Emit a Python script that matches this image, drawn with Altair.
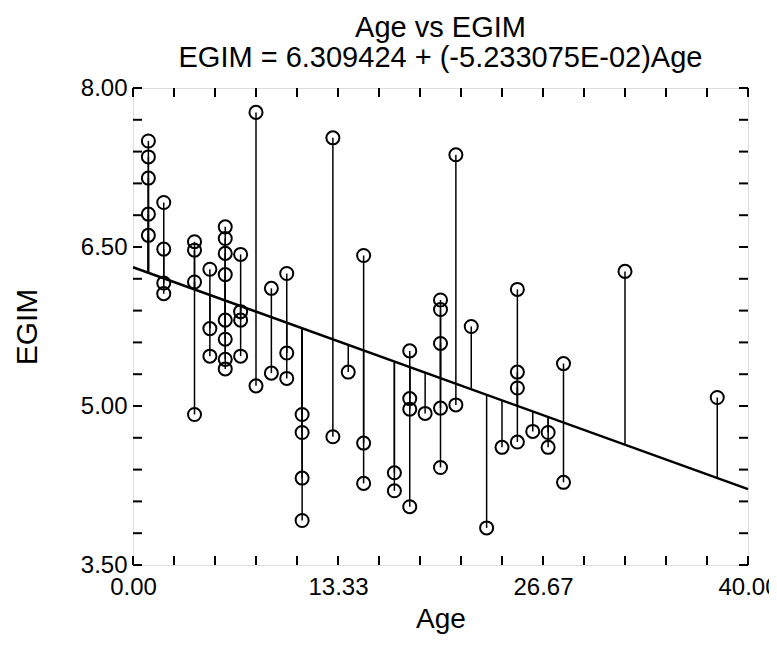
import altair as alt
import pandas as pd

# ---- data ----
age = [1, 1, 1, 1, 1,
       2, 2, 2, 2,
       4, 4, 4, 4,
       5, 5, 5,
       6, 6, 6, 6, 6, 6, 6, 6,
       7, 7, 7, 7,
       8, 8,
       9, 9,
       10, 10, 10,
       11, 11, 11, 11,
       13, 13,
       14,
       15, 15, 15,
       17, 17,
       18, 18, 18, 18,
       19,
       20, 20, 20, 20, 20,
       21, 21,
       22,
       23,
       24,
       25, 25, 25, 25,
       26,
       27, 27,
       28, 28,
       32,
       38]
egim = [7.50, 7.35, 7.15, 6.81, 6.61,
        6.92, 6.48, 6.16, 6.06,
        6.55, 6.47, 6.17, 4.92,
        6.29, 5.73, 5.47,
        6.69, 6.58, 6.44, 6.24, 5.81, 5.63, 5.44, 5.35,
        6.43, 5.89, 5.81, 5.47,
        7.77, 5.19,
        6.11, 5.31,
        6.25, 5.50, 5.26,
        4.92, 4.75, 4.32, 3.92,
        7.53, 4.71,
        5.32,
        6.42, 4.65, 4.27,
        4.37, 4.20,
        5.52, 5.07, 4.97, 4.05,
        4.93,
        6.00, 5.91, 5.59, 4.98, 4.42,
        7.37, 5.01,
        5.75,
        3.85,
        4.61,
        6.10, 5.32, 5.17, 4.66,
        4.76,
        4.75, 4.61,
        5.40, 4.28,
        6.27,
        5.08]

INTERCEPT = 6.309424
SLOPE = -5.233075e-02
fit_ends = [0, 40]

x_labels = [0, 40 / 3, 80 / 3, 40]
y_labels = [3.5, 5.0, 6.5, 8.0]
x_tick_vals = [0, 2.667, 5.333, 8, 10.667, 13.333, 16, 18.667, 21.333, 24,
               26.667, 29.333, 32, 34.667, 37.333, 40]
y_tick_vals = [3.5, 3.8, 4.1, 4.4, 4.7, 5.0, 5.3, 5.6, 5.9, 6.2, 6.5,
               6.8, 7.1, 7.4, 7.7, 8.0]

W, H = 615, 477
TICK = 9
FONT = "Liberation Sans"

df = pd.DataFrame({"Age": age, "EGIM": egim})
fit_df = pd.DataFrame({"Age": fit_ends})
xt = pd.DataFrame({"Age": x_tick_vals})
yt = pd.DataFrame({"EGIM": y_tick_vals})

xs = alt.Scale(domain=[0, 40], nice=False, zero=False)
ys = alt.Scale(domain=[3.5, 8.0], nice=False, zero=False)

x_axis = alt.Axis(values=x_labels, format=".2f", ticks=False, domain=False,
                  grid=False, labelFont=FONT, labelFontSize=24,
                  labelColor="black", labelPadding=10, title="Age",
                  titleFont=FONT, titleFontSize=28, titleFontWeight="normal",
                  titleColor="black", titlePadding=6, labelFlush=False)
y_axis = alt.Axis(values=y_labels, format=".2f", ticks=False, domain=False,
                  grid=False, labelFont=FONT, labelFontSize=24,
                  labelColor="black", labelPadding=6, title="EGIM",
                  titleFont=FONT, titleFontSize=30, titleFontWeight="normal",
                  titleColor="black", titlePadding=38, labelFlush=False)

fit_expr = f"{INTERCEPT} + ({SLOPE}) * datum.Age"

residuals = alt.Chart(df).transform_calculate(fit=fit_expr).mark_rule(
    color="black", strokeWidth=1.5
).encode(
    x=alt.X("Age:Q", scale=xs, axis=x_axis),
    y=alt.Y("EGIM:Q", scale=ys, axis=y_axis),
    y2="fit:Q",
)

line = alt.Chart(fit_df).transform_calculate(EGIM=fit_expr).mark_line(
    color="black", strokeWidth=2.5
).encode(
    x=alt.X("Age:Q", scale=xs),
    y=alt.Y("EGIM:Q", scale=ys),
)

points = alt.Chart(df).mark_point(
    shape="circle", filled=False, size=170, strokeWidth=2,
    color="black", opacity=1
).encode(
    x=alt.X("Age:Q", scale=xs),
    y=alt.Y("EGIM:Q", scale=ys),
)

xt_bottom = alt.Chart(xt).mark_rule(color="black", strokeWidth=2).encode(
    x=alt.X("Age:Q", scale=xs), y=alt.value(H), y2=alt.value(H - TICK))
xt_top = alt.Chart(xt).mark_rule(color="black", strokeWidth=2).encode(
    x=alt.X("Age:Q", scale=xs), y=alt.value(0), y2=alt.value(TICK))
yt_left = alt.Chart(yt).mark_rule(color="black", strokeWidth=2).encode(
    y=alt.Y("EGIM:Q", scale=ys), x=alt.value(0), x2=alt.value(TICK))
yt_right = alt.Chart(yt).mark_rule(color="black", strokeWidth=2).encode(
    y=alt.Y("EGIM:Q", scale=ys), x=alt.value(W - TICK), x2=alt.value(W))

chart = alt.layer(
    residuals, line, points, xt_bottom, xt_top, yt_left, yt_right
).properties(
    width=W, height=H,
    autosize="none",
    padding={"left": 125, "top": 80, "right": 21, "bottom": 72},
    title=alt.TitleParams(
        text=["Age vs EGIM", "EGIM = 6.309424 + (-5.233075E-02)Age"],
        font=FONT, fontSize=29, fontWeight="normal", color="black",
        anchor="middle", lineHeight=30, offset=3,
    ),
).configure_view(
    stroke="black", strokeWidth=2
).configure(background="white")

chart.save("out.html", embed_options={"renderer": "svg", "actions": False})
